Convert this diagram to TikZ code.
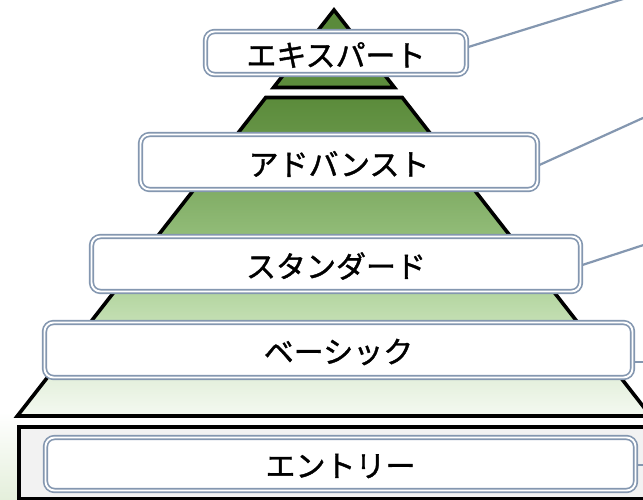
\documentclass[tikz,border=0pt]{standalone}
\usepackage{fontspec}
\setmainfont{Noto Sans CJK JP}
\newfontfamily\lblfont{Noto Sans CJK JP}[FakeBold=1.3]
\usetikzlibrary{calc}
\definecolor{boxc}{HTML}{8497B0}
\definecolor{entryfill}{HTML}{F2F2F2}
\newcommand\lbltext[1]{\raisebox{-2pt}[\height][\depth]{#1}}
\begin{document}
\begin{tikzpicture}[x=1pt,y=-1pt,
  piece/.style={draw=black, line width=3.6pt, line join=miter},
  lbl/.style={draw=boxc, double=white, line width=1.7pt, double distance=1.9pt,
    fill=white, rounded corners=9pt, inner sep=0pt,
    font=\lblfont\fontsize{30}{30}\selectfont},
  conn/.style={draw=boxc, line width=2.2pt}]
\path[use as bounding box, clip] (0,0) rectangle (643,500);
\fill[white] (0,0) rectangle (643,500);
% faint green glow bottom-left
\shade[top color=white, bottom color={rgb,255:red,228;green,239;blue,219}] (0,412) rectangle (20,500);
% pyramid pieces
\path[piece, top color={rgb,255:red,90;green,138;blue,58}, bottom color={rgb,255:red,92;green,140;blue,60}]
  (334,10) -- (394.45,87.5) -- (273.55,87.5) -- cycle;
\path[piece, top color={rgb,255:red,91;green,139;blue,59}, bottom color={rgb,255:red,110;green,155;blue,79}]
  (265.75,97.5) -- (402.25,97.5) -- (453.34,163) -- (214.66,163) -- cycle;
\path[piece, top color={rgb,255:red,122;green,167;blue,93}, bottom color={rgb,255:red,156;green,197;blue,132}]
  (208.42,171) -- (459.58,171) -- (531.34,263) -- (136.66,263) -- cycle;
\path[piece, top color={rgb,255:red,169;green,207;blue,147}, bottom color={rgb,255:red,211;green,232;blue,198}]
  (130.42,271) -- (537.58,271) -- (599.98,351) -- (68.02,351) -- cycle;
\path[piece, top color={rgb,255:red,220;green,235;blue,210}, bottom color={rgb,255:red,244;green,249;blue,241}]
  (61.78,359) -- (606.22,359) -- (650.68,416) -- (17.32,416) -- cycle;
% entry base
\path[piece, fill=entryfill] (19,427) rectangle (680,499);
% label boxes
\node[lbl, minimum width=261pt, minimum height=43pt] (e) at (336,53) {\lbltext{エキスパート}};
\node[lbl, minimum width=397pt, minimum height=55pt] (a) at (339,162) {\lbltext{アドバンスト}};
\node[lbl, minimum width=489pt, minimum height=55pt] (s) at (336,264) {\lbltext{スタンダード}};
\node[lbl, minimum width=588pt, minimum height=55pt] (b) at (338.5,350) {\lbltext{ベーシック}};
\node[lbl, minimum width=590pt, minimum height=53pt] (n) at (340.5,464) {\lbltext{エントリー}};
% connector ends
\coordinate (ee) at (665,-14);
\coordinate (ae) at (665,108);
\coordinate (se) at (665,238);
\coordinate (be) at (665,362);
\coordinate (ne) at (665,465);
\draw[conn] ($(e.east)+(1,-6)$) -- (ee);
\draw[conn] ($(a.east)+(1,3)$) -- (ae);
\draw[conn] ($(s.east)+(1,1)$) -- (se);
\draw[conn] ($(b.east)+(1,12)$) -- (be);
\draw[conn] ($(n.east)+(1,1)$) -- (ne);
\end{tikzpicture}
\end{document}
